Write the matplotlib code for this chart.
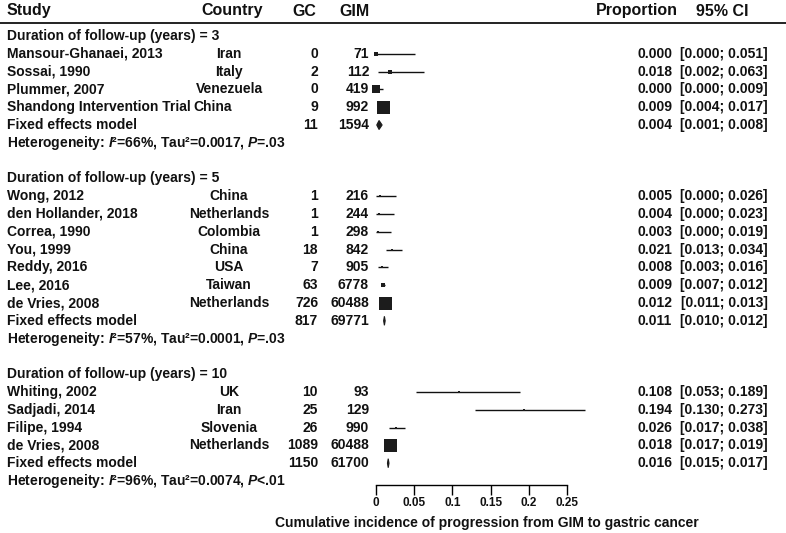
import matplotlib
matplotlib.use("Agg")
import matplotlib.pyplot as plt
from matplotlib.patches import Polygon
import numpy as np

plt.rcParams["font.family"] = ["Liberation Sans", "DejaVu Sans"]
plt.rcParams["font.weight"] = "bold"
plt.rcParams["mathtext.fontset"] = "custom"
plt.rcParams["mathtext.it"] = "Liberation Sans:italic:bold"
plt.rcParams["mathtext.rm"] = "Liberation Sans:bold"
plt.rcParams["mathtext.bf"] = "Liberation Sans:bold"

# --- data -------------------------------------------------------------
group_titles = ["Duration of follow-up (years) = 3",
                "Duration of follow-up (years) = 5",
                "Duration of follow-up (years) = 10"]

studies = [
    ["Mansour-Ghanaei, 2013", "Sossai, 1990", "Plummer, 2007", "Shandong Intervention Trial"],
    ["Wong, 2012", "den Hollander, 2018", "Correa, 1990", "You, 1999", "Reddy, 2016",
     "Lee, 2016", "de Vries, 2008"],
    ["Whiting, 2002", "Sadjadi, 2014", "Filipe, 1994", "de Vries, 2008"],
]
countries = [
    ["Iran", "Italy", "Venezuela", "China"],
    ["China", "Netherlands", "Colombia", "China", "USA", "Taiwan", "Netherlands"],
    ["UK", "Iran", "Slovenia", "Netherlands"],
]
gc = [[0, 2, 0, 9], [1, 1, 1, 18, 7, 63, 726], [10, 25, 26, 1089]]
gim = [[71, 112, 419, 992], [216, 244, 298, 842, 905, 6778, 60488], [93, 129, 990, 60488]]
prop = [[0.000, 0.018, 0.000, 0.009],
        [0.005, 0.004, 0.003, 0.021, 0.008, 0.009, 0.012],
        [0.108, 0.194, 0.026, 0.018]]
ci_lo = [[0.000, 0.002, 0.000, 0.004],
         [0.000, 0.000, 0.000, 0.013, 0.003, 0.007, 0.011],
         [0.053, 0.130, 0.017, 0.017]]
ci_hi = [[0.051, 0.063, 0.009, 0.017],
         [0.026, 0.023, 0.019, 0.034, 0.016, 0.012, 0.013],
         [0.189, 0.273, 0.038, 0.019]]

fixed_gc = [11, 817, 1150]
fixed_gim = [1594, 69771, 61700]
fixed_prop = [0.004, 0.011, 0.016]
fixed_lo = [0.001, 0.010, 0.015]
fixed_hi = [0.008, 0.012, 0.017]

het_i2 = ["66%", "57%", "96%"]
het_tau2 = ["0.0017", "0.0001", "0.0074"]
het_p = ["=.03", "=.03", "<.01"]

xticks = [0, 0.05, 0.1, 0.15, 0.2, 0.25]
xticklabels = ["0", "0.05", "0.1", "0.15", "0.2", "0.25"]
xlabel = "Cumulative incidence of progression from GIM to gastric cancer"

# --- layout (pixel coordinates) ---------------------------------------
W, H = 786, 533
ROW0, STEP = 36, 17.8
AX_L, AX_R, AX_B, AX_T = 376, 567, 485, 22

X_STUDY, X_COUNTRY, X_GC, X_GIM = 7, 229, 318, 369
X_PROP, X_CI = 672, 768
TXT = "#111111"
BODY = 10

fig = plt.figure(figsize=(W / 100, H / 100), dpi=100)
tx = fig.add_axes([0, 0, 1, 1])
tx.set_xlim(0, W)
tx.set_ylim(H, 0)
tx.axis("off")

ax = fig.add_axes([AX_L / W, (H - AX_B) / H, (AX_R - AX_L) / W, (AX_B - AX_T) / H])
ax.set_xlim(0, 0.25)
ax.set_ylim(AX_B, AX_T)
ax.patch.set_alpha(0)
for s in ["top", "right", "left"]:
    ax.spines[s].set_visible(False)
ax.spines["bottom"].set_linewidth(1.0)
ax.set_yticks([])
ax.set_xticks(xticks)
ax.set_xticklabels(xticklabels, fontsize=8.5, fontweight="bold", color=TXT)
ax.tick_params(axis="x", length=7, width=1.0, pad=2)

# header
tx.text(X_STUDY, 11, "Study", fontsize=11.5, ha="left", va="center", color=TXT)
tx.text(232, 11, "Country", fontsize=11.5, ha="center", va="center", color=TXT)
tx.text(316, 11, "GC", fontsize=11.5, ha="right", va="center", color=TXT)
tx.text(370, 11, "GIM", fontsize=11.5, ha="right", va="center", color=TXT)
tx.text(678, 11, "Proportion", fontsize=11.5, ha="right", va="center", color=TXT)
tx.text(748, 11, "95% CI", fontsize=11.5, ha="right", va="center", color=TXT)
tx.plot([0, W], [22.5, 22.5], color=TXT, lw=1.3)

country_shift = {"Shandong Intervention Trial": -16}


def row_y(i):
    return ROW0 + STEP * (i - 1)


def values_text(ypos, p, lo, hi):
    tx.text(X_PROP, ypos, f"{p:.3f}", fontsize=BODY, ha="right", va="center", color=TXT)
    tx.text(X_CI, ypos, f"[{lo:.3f}; {hi:.3f}]", fontsize=BODY, ha="right", va="center", color=TXT)


idx = 1
for g in range(len(group_titles)):
    tx.text(X_STUDY, row_y(idx), group_titles[g], fontsize=BODY, ha="left", va="center", color=TXT)
    idx += 1
    nmax = max(gim[g])
    for k, name in enumerate(studies[g]):
        y = row_y(idx)
        tx.text(X_STUDY, y, name, fontsize=BODY, ha="left", va="center", color=TXT)
        tx.text(X_COUNTRY + country_shift.get(name, 0), y, countries[g][k],
                fontsize=BODY, ha="center", va="center", color=TXT)
        tx.text(X_GC, y, str(gc[g][k]), fontsize=BODY, ha="right", va="center", color=TXT)
        tx.text(X_GIM, y, str(gim[g][k]), fontsize=BODY, ha="right", va="center", color=TXT)
        values_text(y, prop[g][k], ci_lo[g][k], ci_hi[g][k])
        ax.plot([ci_lo[g][k], ci_hi[g][k]], [y, y], color=TXT, lw=1.0,
                solid_capstyle="butt", clip_on=False)
        side_px = max(2.4, 13 * np.sqrt(gim[g][k] / nmax))
        ax.scatter([prop[g][k]], [y], marker="s", s=(side_px * 0.72) ** 2,
                   color="#1c1c1c", linewidths=0, zorder=3, clip_on=False)
        idx += 1
    # fixed effects row
    y = row_y(idx)
    tx.text(X_STUDY, y, "Fixed effects model", fontsize=BODY, ha="left", va="center", color=TXT)
    tx.text(X_GC, y, str(fixed_gc[g]), fontsize=BODY, ha="right", va="center", color=TXT)
    tx.text(X_GIM, y, str(fixed_gim[g]), fontsize=BODY, ha="right", va="center", color=TXT)
    values_text(y, fixed_prop[g], fixed_lo[g], fixed_hi[g])
    ax.add_patch(Polygon([(fixed_lo[g], y), (fixed_prop[g], y - 4.5),
                          (fixed_hi[g], y), (fixed_prop[g], y + 4.5)],
                         closed=True, facecolor="#1c1c1c", edgecolor="#1c1c1c",
                         lw=0.8, clip_on=False))
    idx += 1
    # heterogeneity
    y = row_y(idx)
    het = (r"Heterogeneity: $\mathit{I}$" + "\u00b2=" + het_i2[g]
           + ", Tau\u00b2=" + het_tau2[g] + r", $\mathit{P}$" + het_p[g])
    tx.text(X_STUDY, y, het, fontsize=BODY, ha="left", va="center", color=TXT)
    idx += 2

tx.text(487, 523, xlabel, fontsize=10, ha="center", va="center", color=TXT)

fig.savefig("out.png", dpi=100, facecolor="white")
